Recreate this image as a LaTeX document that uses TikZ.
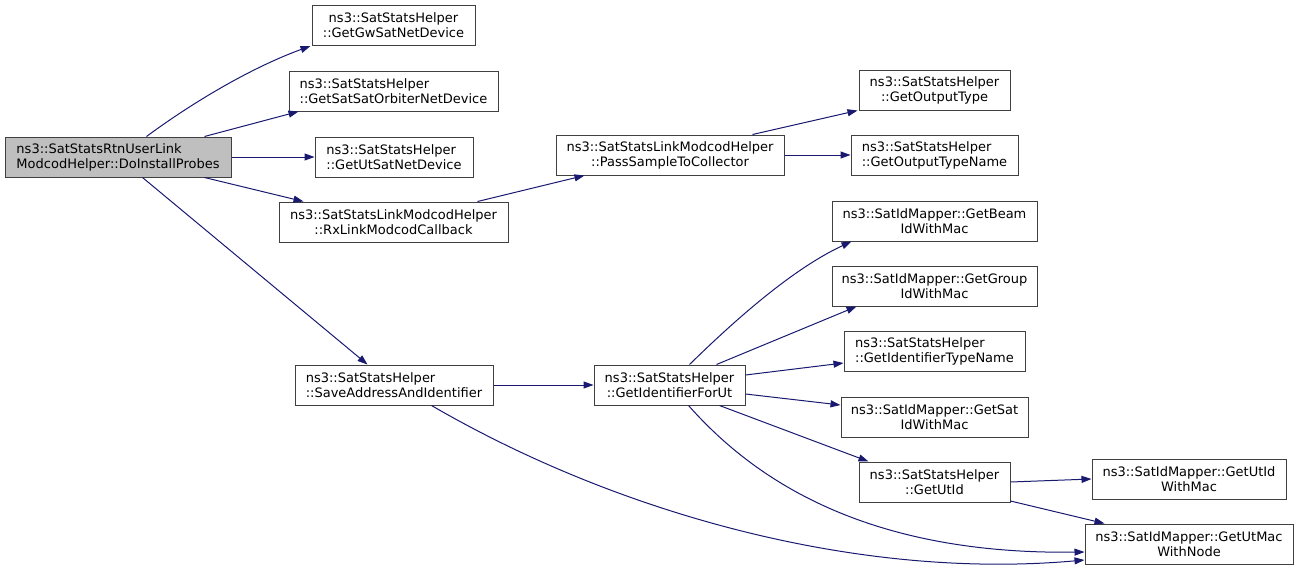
\documentclass[tikz,border=0pt]{standalone}
\usepackage{fontspec}
\setmainfont{DejaVu Sans}
\usetikzlibrary{arrows.meta}
\definecolor{edgecol}{HTML}{191970}
\definecolor{rootfill}{HTML}{BFBFBF}
\definecolor{boxline}{HTML}{404040}
\tikzset{
  box/.style={draw=boxline, line width=1pt, fill=white, inner sep=0pt, minimum height=40pt,
    font=\fontsize{13}{15}\selectfont, text=black},
  lbox/.style={box, align=left},
  cbox/.style={box, align=center},
  call/.style={draw=edgecol, line width=1pt, -{Triangle[length=10pt,width=7pt]}, edgecol},
}
\begin{document}
\begin{tikzpicture}[x=1pt,y=-1pt]
\useasboundingbox (0,0) rectangle (1299,573);
% nodes
\node[lbox, fill=rootfill, minimum width=226pt] (root) at (118,157) {ns3::SatStatsRtnUserLink\\ModcodHelper::DoInstallProbes};
\node[cbox, minimum width=163pt] (gw) at (393.5,25.5) {ns3::SatStatsHelper\\::GetGwSatNetDevice};
\node[lbox, minimum width=209pt] (orb) at (393.5,91) {ns3::SatStatsHelper\\::GetSatSatOrbiterNetDevice};
\node[lbox, minimum width=158pt] (ut) at (394,157) {ns3::SatStatsHelper\\::GetUtSatNetDevice};
\node[cbox, minimum width=229pt] (rx) at (393.5,222) {ns3::SatStatsLinkModcodHelper\\::RxLinkModcodCallback};
\node[lbox, minimum width=198pt] (save) at (394,385) {ns3::SatStatsHelper\\::SaveAddressAndIdentifier};
\node[cbox, minimum width=228pt] (pass) at (670,155) {ns3::SatStatsLinkModcodHelper\\::PassSampleToCollector};
\node[cbox, minimum width=151pt] (otype) at (934.5,90) {ns3::SatStatsHelper\\::GetOutputType};
\node[lbox, minimum width=167pt] (otname) at (934.5,155) {ns3::SatStatsHelper\\::GetOutputTypeName};
\node[cbox, minimum width=205pt] (beam) at (934.5,221) {ns3::SatIdMapper::GetBeam\\IdWithMac};
\node[cbox, minimum width=205pt] (group) at (934.5,286) {ns3::SatIdMapper::GetGroup\\IdWithMac};
\node[lbox, minimum width=181pt] (idtn) at (934.5,351) {ns3::SatStatsHelper\\::GetIdentifierTypeName};
\node[cbox, minimum width=187pt] (sat) at (934.5,417) {ns3::SatIdMapper::GetSat\\IdWithMac};
\node[cbox, minimum width=151pt] (utid) at (934.5,482) {ns3::SatStatsHelper\\::GetUtId};
\node[cbox, minimum width=151pt] (idfu) at (669.5,385) {ns3::SatStatsHelper\\::GetIdentifierForUt};
\node[cbox, minimum width=194pt] (utidmac) at (1189,479) {ns3::SatIdMapper::GetUtId\\WithMac};
\node[cbox, minimum width=208pt] (utmac) at (1189,544) {ns3::SatIdMapper::GetUtMac\\WithNode};
% edges
\draw[call] ([xshift=142pt]root.north west) .. controls (185,108) and (245,70) .. ([xshift=-1pt]gw.south west);
\draw[call] ([xshift=200pt]root.north west) -- ([xshift=10pt]orb.south west);
\draw[call] (root.east) -- (ut.west);
\draw[call] ([xshift=200pt]root.south west) -- ([xshift=25pt]rx.north west);
\draw[call] ([xshift=138pt]root.south west) -- ([xshift=73pt]save.north west);
\draw[call] ([xshift=199pt]rx.north west) -- ([xshift=29pt]pass.south west);
\draw[call] ([xshift=197pt]pass.north west) -- ([xshift=-1pt]otype.south west);
\draw[call] (pass.east) -- (otname.west);
\draw[call] (save.east) -- (idfu.west);
\draw[call] ([xshift=137pt]save.south west) .. controls (620,515) and (860,580) .. ([yshift=-16pt]utmac.west);
\draw[call] ([xshift=96pt]idfu.north west) .. controls (730,325) and (790,270) .. ([xshift=20pt]beam.south west);
\draw[call] ([xshift=123pt]idfu.north west) -- ([xshift=25pt]group.south west);
\draw[call] ([yshift=10pt]idfu.east) -- ([yshift=-12pt]idtn.west);
\draw[call] ([yshift=-9pt]idfu.east) -- ([yshift=12pt]sat.west);
\draw[call] ([xshift=126pt]idfu.south west) -- ([xshift=10pt]utid.north west);
\draw[call] ([xshift=95pt]idfu.south west) .. controls (750,475) and (860,555) .. ([yshift=-8pt]utmac.west);
\draw[call] (utid.east) -- (utidmac.west);
\draw[call] ([yshift=-19pt]utid.east) -- ([xshift=20pt]utmac.north west);
\end{tikzpicture}
\end{document}
